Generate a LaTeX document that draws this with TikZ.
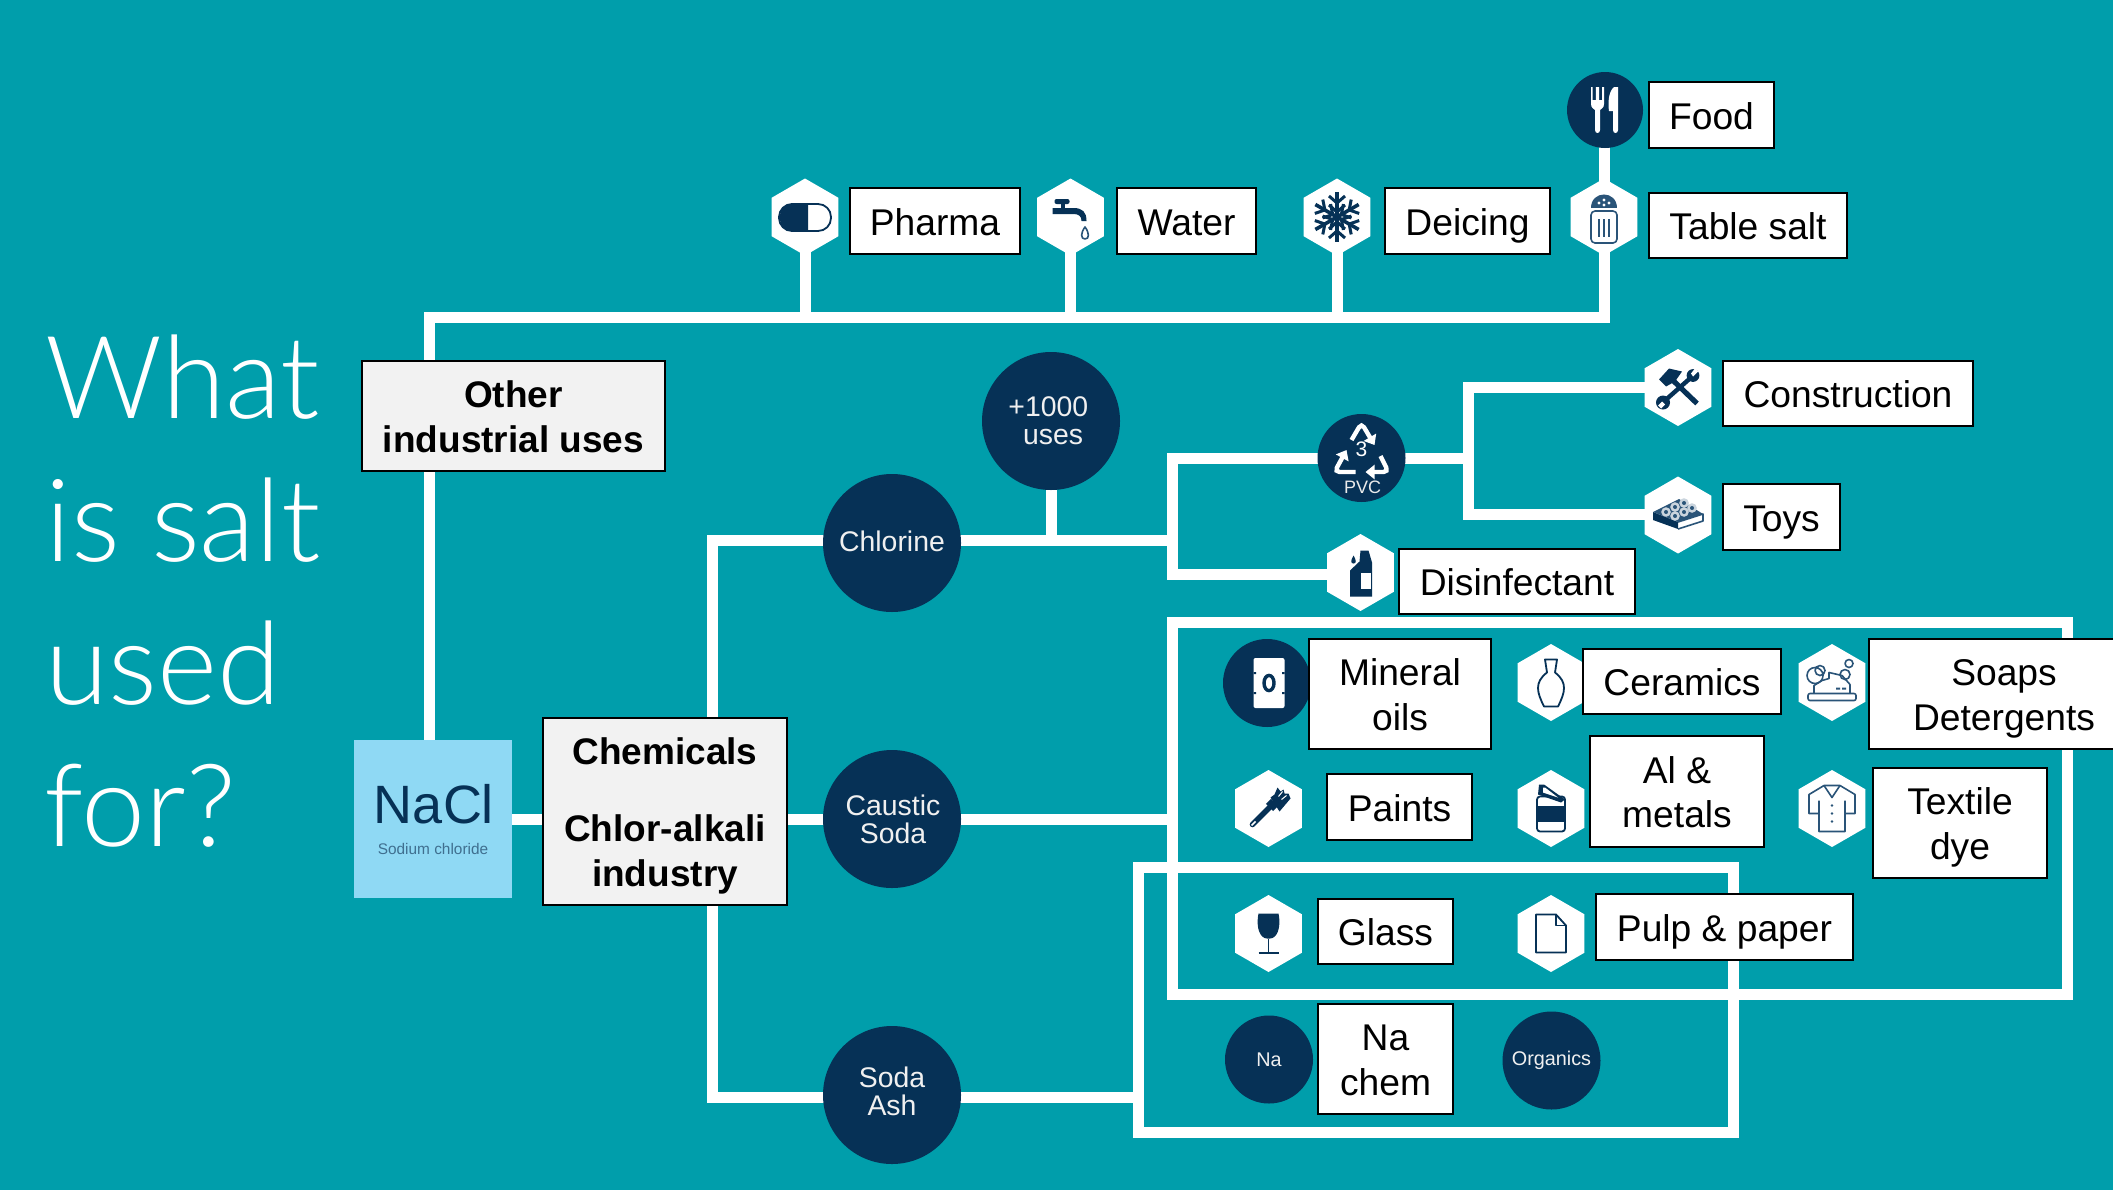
\documentclass[tikz,border=0pt]{standalone}
\usepackage{fontspec}
\setmainfont{Liberation Sans}
\newfontfamily\titlefont{Lato Light}
\usetikzlibrary{shapes.geometric,arrows.meta}
\definecolor{bgteal}{HTML}{009EAB}
\definecolor{navy}{HTML}{063156}
\definecolor{slateb}{HTML}{2A5478}
\definecolor{sodiumc}{HTML}{3F6F8F}
\definecolor{nablue}{HTML}{8FD9F4}
\definecolor{greybox}{HTML}{F2F2F2}
\pgfdeclarelayer{wires}
\pgfsetlayers{wires,main}
\newcommand{\topstrut}{\rule{0pt}{19pt}}
\newcommand{\botstrut}{\rule[-5pt]{0pt}{5pt}}
\tikzset{
  wire/.style={draw=white,line width=5.5pt,line join=miter},
  lab/.style={draw=black,line width=1pt,fill=white,inner sep=0pt,align=center,text=black,font=\fontsize{18.6}{22.2}\selectfont},
  boldlab/.style={lab,fill=greybox,font=\fontsize{18.5}{22.2}\selectfont\bfseries},
  hexn/.style={regular polygon,regular polygon sides=6,shape border rotate=30,fill=white,inner sep=0pt,minimum size=38.5pt},
  disc/.style={circle,fill=navy,inner sep=0pt,align=center,text=white!94!black,font=\fontsize{14.2}{14}\selectfont},
  smalldisc/.style={disc,font=\fontsize{9.9}{11}\selectfont},
  ttl/.style={anchor=base west,inner sep=0pt,text=white,font=\titlefont\fontsize{57.5}{60}\selectfont},
  iconl/.style={draw=slateb,line width=.8pt,line join=round},
  iconn/.style={draw=navy,line width=.9pt,line join=round}
}
\newcommand{\labbox}[7][lab]{\node[#1,minimum width={(#5-#3)*0.5pt},minimum height={(#6-#4)*0.5pt}] (#2) at ({(#3+#5)/2},{(#4+#6)/2}) {\topstrut #7\botstrut};}
\begin{document}
\begin{tikzpicture}[x=0.5pt,y=-0.5pt]
\useasboundingbox (0,0) rectangle (2113,1189);
\clip (-3,-3) rectangle (2116,1192);
\begin{pgfonlayer}{wires}
\fill[bgteal] (-3,-3) rectangle (2116,1192);
\end{pgfonlayer}
% title
\node[ttl] (t1) at (45,418) {What};
\node[ttl] (t2) at (45,561.5) {is salt};
\node[ttl] (t3) at (45,704) {used};
\node[ttl] (t4) at (44,846) {for?};
% NaCl
\node[fill=nablue,inner sep=0pt,minimum size=79pt] (nacl) at (433,819) {};
\node[anchor=base,inner sep=0pt,text=navy,font=\fontsize{27}{27}\selectfont] (nacltxt) at (434,823) {NaCl};
\node[anchor=base,inner sep=0pt,text=sodiumc,font=\fontsize{7.7}{8}\selectfont] (sodtxt) at (433,854) {Sodium chloride};
% grey boxes
\labbox[boldlab]{other}{362}{361}{665}{471}{Other\\industrial uses}
\labbox[boldlab]{chem}{543}{718}{787}{905}{Chemicals\\[16.3pt]Chlor-alkali\\industry}
% discs
\node[disc,minimum size=69pt] (chlorine) at (892,543) {Chlorine\rule[-1.3pt]{0pt}{0pt}};
\node[disc,minimum size=69pt] (caustic) at (892,819) {\hspace*{1pt}Caustic\\\hspace*{1pt}Soda};
\node[disc,minimum size=69pt] (soda) at (892,1095) {Soda\\Ash\rule[-4pt]{0pt}{0pt}};
\node[disc,minimum size=69pt] (uses) at (1051,421) {+1000\hspace*{2.7pt}\\\hspace*{2pt}uses};
\node[disc,minimum size=38pt] (food) at (1605,110) {};
\node[disc,minimum size=44pt] (pvc) at (1361.5,458) {};
\node[disc,minimum size=44pt] (oil) at (1267,683) {};
\node[smalldisc,minimum size=44pt] (na) at (1269,1059.5) {Na};
\node[smalldisc,minimum size=49pt] (organics) at (1551.5,1060.5) {Organics};
% hexagons
\node[hexn] (hpharma) at (805,217) {};
\node[hexn] (hwater) at (1070.5,217) {};
\node[hexn] (hdeice) at (1337,217) {};
\node[hexn] (hsalt) at (1604,217) {};
\node[hexn] (hconstr) at (1678,387.5) {};
\node[hexn] (htoys) at (1678,515) {};
\node[hexn] (hdisinf) at (1360.5,572.5) {};
\node[hexn] (hceram) at (1551,682.5) {};
\node[hexn] (hsoap) at (1832,682.5) {};
\node[hexn] (hpaint) at (1268.5,808.5) {};
\node[hexn] (hmetal) at (1551,808.5) {};
\node[hexn] (htext) at (1832,808.5) {};
\node[hexn] (hglass) at (1268.5,933.5) {};
\node[hexn] (hpulp) at (1551,933.5) {};
% labels
\labbox{lfood}{1649}{82}{1774}{148}{Food}
\labbox{lpharma}{850}{188}{1020}{254}{Pharma}
\labbox{lwater}{1117}{188}{1256}{254}{Water}
\labbox{ldeice}{1385}{188}{1550}{254}{Deicing}
\labbox{lsalt}{1649}{193}{1847}{258}{Table salt}
\labbox{lconstr}{1723}{361}{1973}{426}{Construction}
\labbox{ltoys}{1723}{484}{1840}{550}{Toys}
\labbox{ldisinf}{1399}{549}{1635}{614}{Disinfectant}
\labbox{lmineral}{1309}{639}{1491}{749}{Mineral\\oils}
\labbox{lceram}{1583}{649}{1781}{714}{Ceramics}
\labbox{lsoap}{1869}{639}{2139}{749}{Soaps\\Detergents}
\labbox{lpaint}{1327}{774}{1472}{840}{Paints}
\labbox{lmetal}{1590}{736}{1764}{847}{Al \&\\metals}
\labbox{ltext}{1873}{768}{2047}{878}{Textile\\dye}
\labbox{lglass}{1318}{899}{1453}{964}{Glass}
\labbox{lpulp}{1596}{894}{1853}{960}{Pulp \& paper}
\labbox{lna}{1318}{1004}{1453}{1114}{Na\\chem}
% junctions
\coordinate (topL) at (429,317.5);
\coordinate (topR) at (1604,317.5);
\coordinate (chlL) at (712.5,540.5);
\coordinate (sodL) at (712.5,1097.5);
\coordinate (busC) at (1172.5,540.5);
\coordinate (busP) at (1172.5,458);
\coordinate (busD) at (1172.5,574.5);
\coordinate (brT) at (1468,387.5);
\coordinate (brB) at (1468,514.5);
\coordinate (brM) at (1468,458);
\coordinate (frA) at (1172.5,622.5);
\coordinate (frB) at (2067.5,994.5);
\coordinate (frC) at (1138.5,867.5);
\coordinate (frD) at (1733,1132.5);
\begin{pgfonlayer}{wires}
\draw[wire] (nacl.north -| topL) -- (topL) -- (topR) -- (food.center -| topR);
\draw[wire] (hpharma.center) -- (hpharma.center |- topL);
\draw[wire] (hwater.center) -- (hwater.center |- topL);
\draw[wire] (hdeice.center) -- (hdeice.center |- topL);
\draw[wire] (nacl.center) -- (nacl.center -| caustic.center);
\draw[wire] (caustic.center) -- (caustic.center -| frA);
\draw[wire] (chem.north -| chlL) -- (chlL) -- (chlorine.center |- chlL);
\draw[wire] (chem.south -| sodL) -- (sodL) -- (soda.center |- sodL);
\draw[wire] (soda.center |- sodL) -- (sodL -| frC);
\draw[wire] (chlorine.center |- busC) -- (busC);
\draw[wire] (uses.center) -- (uses.center |- busC);
\draw[wire] (pvc.center) -- (busP) -- (busD) -- (hdisinf.center |- busD);
\draw[wire] (pvc.center) -- (brM);
\draw[wire] (hconstr.center |- brT) -- (brT) -- (brB) -- (htoys.center |- brB);
\draw[wire] (frA) rectangle (frB);
\draw[wire] (frC) rectangle (frD);
\end{pgfonlayer}
% icons ------------------------------------------------------------
\begin{scope}[shift={(805,217)}]
\draw[iconn,rounded corners=6.5pt] (-26,-13) rectangle (26,14);
\fill[navy] (3,-13) -- (-14,-13) .. controls (-29,-13) and (-29,14) .. (-14,14) -- (3,14) -- cycle;
\end{scope}
\begin{scope}[shift={(1070.5,217)}]
\fill[navy,rounded corners=1pt] (-16,-18) rectangle (-1,-13);
\fill[navy] (-10,-13) rectangle (-6,-9);
\fill[navy] (-18,-9) -- (3,-9) .. controls (12,-9) and (16,-5) .. (16,4) -- (11,4) .. controls (11,-1) and (8,-3) .. (3,-3) -- (-18,-3) -- cycle;
\draw[iconl] (14.5,10) .. controls (10,16) and (10,22) .. (14.5,22) .. controls (19,22) and (19,16) .. (14.5,10) -- cycle;
\end{scope}
\begin{scope}[shift={(1337,217)}]
\foreach \a in {0,60,...,300}{
\begin{scope}[rotate=\a]
\draw[navy,line width=1.8pt] (0,0) -- (0,-25);
\draw[navy,line width=1.5pt] (-8,-21) -- (0,-14) -- (8,-21);
\draw[navy,line width=1.5pt] (-8,-12) -- (0,-5) -- (8,-12);
\end{scope}}
\end{scope}
\begin{scope}[shift={(1604,217)}]
\fill[slateb] (-13,-9) .. controls (-13,-27) and (13,-27) .. (13,-9) -- cycle;
\fill[white] (-5,-14) circle (.8pt) (0,-17) circle (.8pt) (5,-14) circle (.8pt) (0,-12) circle (.8pt);
\draw[iconl,rounded corners=2pt] (-13,-6) rectangle (13,26);
\draw[iconl] (-5,2) -- (-5,20) (0,2) -- (0,20) (5,2) -- (5,20);
\end{scope}
\begin{scope}[shift={(1605,110)}]
\fill[white] (-14,-23) -- (-12.3,-23) -- (-12.3,-10) -- (-9.2,-10) -- (-9.2,-23) -- (-6,-23) -- (-6,-10) -- (-2.8,-10) -- (-2.8,-23) -- (-1,-23) -- (-1,-6) .. controls (-1,-2) and (-4,-1) .. (-5,0) -- (-5,20) .. controls (-5,24) and (-10,24) .. (-10,20) -- (-10,0) .. controls (-11,-1) and (-14,-2) .. (-14,-6) -- cycle;
\fill[white] (9,-23) .. controls (3,-18) and (3,-6) .. (4,1) -- (8,1) -- (8,20) .. controls (8,24) and (13,24) .. (13,20) -- (13,-23) -- cycle;
\end{scope}
\begin{scope}[shift={(1361.5,458)}]
\draw[white,line width=2.2pt,rounded corners=2.5pt,-{Triangle[length=4.5pt,width=7pt]}] (-10,-18) -- (0,-35) -- (13,-13);
\draw[white,line width=2.2pt,rounded corners=2.5pt,-{Triangle[length=4.5pt,width=7pt]}] (19,-2) -- (27,14) -- (4,14);
\draw[white,line width=2.2pt,rounded corners=2.5pt,-{Triangle[length=4.5pt,width=7pt]}] (-6,14) -- (-27,14) -- (-15,-8);
\node[inner sep=0pt,text=white,font=\fontsize{10.5}{11}\selectfont] (three) at (0,-9) {3};
\node[inner sep=0pt,text=white!92!black,font=\fontsize{9}{10}\selectfont] (pvctxt) at (1,29) {PVC};
\end{scope}
\begin{scope}[shift={(1678,387.5)}]
\draw[navy,line width=2.6pt] (-6,-8) -- (19,16);
\fill[navy] (-19,-8) -- (-9,-19) -- (4,-16) -- (-3,-6) -- (-12,-1) -- cycle;
\draw[navy,line width=2.2pt] (13,-10) -- (-13,13);
\fill[navy] (-15,15) circle (3.5pt);
\fill[navy] (15,-12) circle (3.2pt);
\fill[white] (-20,18) -- (-16,14) -- (-13,17) -- (-17,21) -- cycle;
\fill[white] (20,-16) -- (15,-11) -- (13,-14) -- (17,-19) -- cycle;
\end{scope}
\begin{scope}[shift={(1678,515)}]
\fill[navy] (-25,-3) -- (0,7) -- (0,14) -- (-25,5) -- cycle;
\draw[iconl] (0,7) -- (25,-1) -- (25,6) -- (0,14);
\fill[slateb] (-25,-3) -- (1,-16) -- (25,-1) -- (0,7) -- cycle;
\foreach \p in {(-12,-3),(-3,-8),(6,-12),(-3,1),(6,-3),(14,-7)}{
\fill[white!75!slateb] \p circle (2.4pt);
\fill[slateb] \p circle (1pt);}
\end{scope}
\begin{scope}[shift={(1360.5,572.5)}]
\fill[navy] (-10.5,-2) -- (-1,-11) -- (0,-22) -- (8,-22) -- (11.5,-10) -- (11.5,24) -- (-10.5,24) -- cycle;
\fill[white] (0,0) rectangle (10,16);
\fill[navy] (-7,-17) .. controls (-10,-12) and (-10,-9) .. (-7,-9) .. controls (-4,-9) and (-4,-12) .. (-7,-17) -- cycle;
\end{scope}
\begin{scope}[shift={(1269,683)}]
\fill[white,rounded corners=1pt] (-15.5,-25) rectangle (15.5,25);
\fill[navy] (-15.5,-11) rectangle (-13,-9) (13,-11) rectangle (15.5,-9) (-15.5,9) rectangle (-13,11) (13,9) rectangle (15.5,11);
\draw[navy,line width=1.7pt] (0,0) ellipse [x radius=2.5pt,y radius=3.8pt];
\end{scope}
\begin{scope}[shift={(1551,682.5)}]
\draw[iconn] (-6,-23) -- (6,-23) -- (4,-10) .. controls (17,0) and (14,10) .. (7,24) -- (-7,24) .. controls (-14,10) and (-17,0) .. (-4,-10) -- cycle;
\end{scope}
\begin{scope}[shift={(1832,682.5)}]
\draw[iconl,rounded corners=1pt] (-24,11) rectangle (24,18);
\draw[iconl] (-18,11) -- (-18,3) -- (-10,-2) -- (-3,-4) -- (-3,-10) -- (10,-7) -- (18,2) -- (18,11);
\draw[iconl] (-17,-7) circle (4pt) (-12,-12) circle (2.5pt) (13,-8) circle (2.5pt) (17,-19) circle (2pt);
\fill[slateb] (4,5) rectangle (8,7) (10,5) rectangle (14,7);
\end{scope}
\begin{scope}[shift={(1268.5,808.5)}]
\draw[navy,line width=2.8pt,line cap=round] (-16,16) -- (2,-2);
\draw[white,line width=.8pt] (-17,17) -- (-13,13);
\draw[navy,line width=5pt] (1,-1) -- (6,-6);
\fill[navy] (2,-11) -- (6,-14) -- (9,-21) -- (12,-17) -- (15,-19) -- (16,-15) -- (20,-15) -- (22,-10) -- (11,3) -- cycle;
\draw[white,line width=.5pt] (10,-12) -- (14,-17) (13,-9) -- (18,-13);
\end{scope}
\begin{scope}[shift={(1551,808.5)}]
\draw[iconn,rounded corners=1.5pt] (-14,-12) rectangle (14,23);
\fill[navy] (-14,-3) rectangle (14,13);
\fill[navy] (-12,-24) -- (-7,-24) -- (14,-9) -- (10,-6) -- (-13,-14) -- cycle;
\fill[white] (-8,-21) -- (-6,-21) -- (7,-11) -- (-8,-16) -- cycle;
\end{scope}
\begin{scope}[shift={(1832,808.5)}]
\draw[iconl] (-8,-23) -- (-23,-14) -- (-23,5) -- (-13,5) -- (-13,23) -- (13,23) -- (13,5) -- (23,5) -- (23,-14) -- (8,-23) -- cycle;
\draw[iconl] (-8,-23) -- (0,-11) -- (8,-23) (-13,-8) -- (-13,5) (13,-8) -- (13,5);
\fill[slateb] (0,-3) circle (.7pt) (0,5) circle (.7pt) (0,13) circle (.7pt);
\end{scope}
\begin{scope}[shift={(1268.5,933.5)}]
\fill[navy] (-10,-20) -- (10,-20) .. controls (13,-5) and (8,5) .. (1.5,5) -- (-1.5,5) .. controls (-8,5) and (-13,-5) .. (-10,-20) -- cycle;
\draw[navy,line width=.9pt] (0,5) -- (0,19) (-10,19.5) -- (10,19.5);
\end{scope}
\begin{scope}[shift={(1551,933.5)}]
\draw[iconn] (-15,-19) -- (5,-19) -- (15,-8) -- (15,19) -- (-15,19) -- cycle;
\draw[iconn] (5,-19) -- (5,-8) -- (15,-8);
\end{scope}
\end{tikzpicture}
\end{document}
